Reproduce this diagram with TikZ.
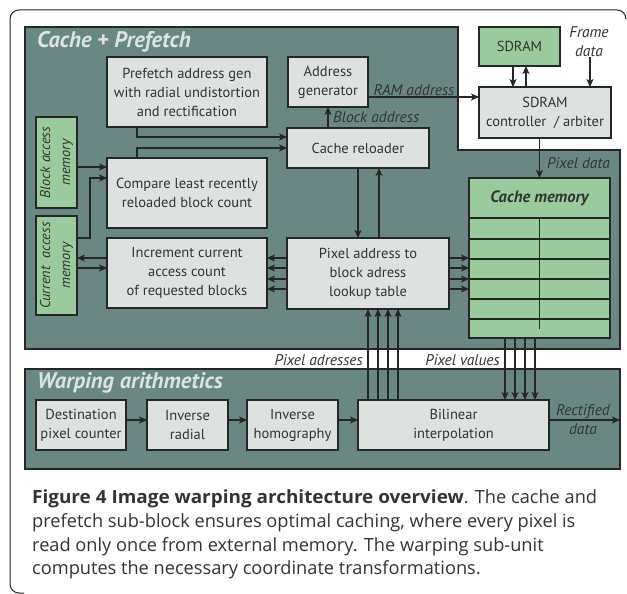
\documentclass[tikz,border=0pt]{standalone}
\usepackage{fontspec}
\setmainfont{Open Sans}
\newfontfamily\diag{PT Sans}
\usetikzlibrary{arrows.meta,calc}
\definecolor{panelc}{HTML}{6B8784}
\definecolor{boxc}{HTML}{DDE2E1}
\definecolor{memc}{HTML}{9ACB9E}
\definecolor{linec}{HTML}{262626}
\definecolor{titlec}{HTML}{DCE4E3}
\definecolor{txtc}{HTML}{333333}
\begin{document}
\begin{tikzpicture}[x=1pt,y=-1pt,
  box/.style={draw=linec, fill=boxc, line width=1.2pt, inner sep=0pt, outer sep=0pt, anchor=north west, align=center, text=txtc, font=\diag\fontsize{14.5}{19}\selectfont},
  mem/.style={box, fill=memc},
  arr/.style={draw=linec, line width=1.2pt, -{Stealth[length=8pt,width=7pt,inset=2pt]}},
  wire/.style={draw=linec, line width=1.2pt},
  lbl/.style={font=\diag\itshape\fontsize{15.5}{19}\selectfont, text=txtc, inner sep=0pt, align=center},
  memlbl/.style={font=\diag\itshape\fontsize{14.3}{20}\selectfont, text=txtc, inner sep=0pt, align=center, rotate=90},
  ptitle/.style={font=\diag\bfseries\itshape\fontsize{22.5}{24}\selectfont, text=titlec, inner sep=0pt, anchor=west},
  panel/.style={draw=linec, fill=panelc, line width=1.2pt},
  captext/.style={font=\fontsize{18.2}{24}\selectfont, text=txtc, inner sep=0pt, anchor=base west}]

\useasboundingbox[fill=white] (0,0) rectangle (627,594);

% outer frame
\draw[line width=1pt, draw=black!85, rounded corners=9pt] (626,18) -- (626,10) -- (10,10) -- (10,593) -- (24,593);

% panels
\path[panel] (25,27) -- (458,27) -- (458,150) -- (620,150) -- (620,349) -- (25,349) -- cycle;
\path[panel] (25,369) rectangle (620,469);
\node[ptitle] (t1) at (37,42) {Cache + Prefetch};
\node[ptitle] (t2) at (37,383) {Warping arithmetics};

% cache + prefetch blocks
\node[box, minimum width=160pt, minimum height=70pt] (pref) at (107,57) {Prefetch address gen\\with radial undistortion\\and rectification};
\node[box, minimum width=80pt, minimum height=50pt] (addr) at (288,57) {Address\\generator};
\node[box, minimum width=142pt, minimum height=40pt] (reload) at (287,128) {Cache reloader};
\node[mem, minimum width=41pt, minimum height=91pt] (bam) at (36,117) {};
\node[memlbl] (bamt) at (bam.center) {Block access\\memory};
\node[mem, minimum width=41pt, minimum height=99pt] (cam) at (36,216) {};
\node[memlbl] (camt) at (cam.center) {Current\ \ access\\memory};
\node[box, minimum width=160pt, minimum height=70pt] (comp) at (107,158) {Compare least recently\\reloaded block count};
\node[box, minimum width=160pt, minimum height=70pt] (incr) at (107,238) {Increment current\\access count\\of requested blocks};
\node[box, minimum width=162pt, minimum height=71pt] (lut) at (287,238) {Pixel address to\\block adress\\lookup table};
\node[mem, minimum width=141pt, minimum height=160pt] (cmem) at (469,178) {};
\node[font=\diag\bfseries\itshape\fontsize{16.5}{18}\selectfont, text=txtc, inner sep=0pt] (cmemt) at ($(cmem.north)+(0,20)$) {Cache memory};
\foreach \yy in {40,61,81,101,121,141} {
  \draw[wire] ($(cmem.north west)+(0,\yy)$) -- ($(cmem.north east)+(0,\yy)$);
}
\draw[wire] ($(cmem.north)+(0,40)$) -- ($(cmem.north)+(0,151)$);
\node[mem, minimum width=81pt, minimum height=39pt] (sdram) at (479,27) {SDRAM};
\node[box, minimum width=132pt, minimum height=51pt] (ctrl) at (479,87) {SDRAM\\controller~ / arbiter};

% warping blocks
\node[box, minimum width=90pt, minimum height=50pt] (dest) at (36,400) {Destination\\pixel counter};
\node[box, minimum width=81pt, minimum height=50pt] (irad) at (147,400) {Inverse\\radial};
\node[box, minimum width=91pt, minimum height=50pt] (ihom) at (247,400) {Inverse\\homography};
\node[box, minimum width=191pt, minimum height=50pt] (bil) at (358,400) {Bilinear\\interpolation};

% connectors
\draw[arr] ($(pref.south west)+(30,0)$) |- ($(reload.west)+(0,-11)$);
\draw[arr] ($(comp.north west)+(30,0)$) |- (reload.west);
\draw[arr] ($(bam.east)+(0,4.5)$) coordinate (a1) -- (a1 -| comp.west);
\draw[arr] ($(cam.east)+(0,-27.5)$) -- ++(13,0) |- ($(comp.west)+(0,-15)$);
\draw[arr] ($(incr.west)+(0,-15)$) coordinate (a2) -- (a2 -| cam.east);
\draw[arr] ($(cam.east)+(0,2.5)$) coordinate (a3) -- (a3 -| incr.west);
\foreach \dd in {-15.5,-5.5,5.5,15.5} {
  \draw[arr] ($(lut.west)+(0,\dd)$) coordinate (a4) -- (a4 -| incr.east);
  \draw[arr] ($(lut.east)+(0,\dd)$) coordinate (a5) -- (a5 -| cmem.west);
}
\draw[arr] (reload.south) -- (reload.south |- lut.north);
\coordinate (c1) at ($(reload.south)+(21,0)$);
\draw[arr] (c1 |- lut.north) -- (c1);
\draw[arr] (addr.south |- reload.north) -- (addr.south);
\draw[arr] ($(addr.east)+(0,15)$) coordinate (a6) -- (a6 -| ctrl.west);
\draw[arr] ($(sdram.south)+(-6.5,0)$) coordinate (a7) -- (a7 |- ctrl.north);
\coordinate (c2) at ($(sdram.south)+(6.5,0)$);
\draw[arr] (c2 |- ctrl.north) -- (c2);
\coordinate (fd) at (590,57);
\draw[arr] (fd) -- (fd |- ctrl.north);
\draw[arr] (ctrl.south -| cmem.north) -- (cmem.north);
\foreach \dd in {-85.5,-75.5,-65.5,-55.5} {
  \draw[arr] ($(bil.north)+(\dd,0)$) coordinate (a8) -- (a8 |- lut.south);
}
\foreach \dd in {-34.5,-24.5,-14.5,-4.5} {
  \draw[arr] ($(cmem.south)+(\dd,0)$) coordinate (a9) -- (a9 |- bil.north);
}
\draw[arr] ($(dest.east)+(0,-5)$) coordinate (b1) -- (b1 -| irad.west);
\draw[arr] ($(irad.east)+(0,-5)$) coordinate (b2) -- (b2 -| ihom.west);
\draw[arr] ($(ihom.east)+(0,-5)$) coordinate (b3) -- (b3 -| bil.west);
\coordinate (out) at (620,420);
\draw[arr] (b3 -| bil.east) -- (out);

% labels
\node[lbl] (l1) at (414,90) {RAM address};
\node[lbl, anchor=west] (l2) at (333,117) {Block address};
\node[lbl, anchor=west] (l3) at (547,163) {Pixel data};
\node[lbl] (l4) at (589,42) {Frame\\data};
\node[lbl, anchor=east] (l5) at (363,360) {Pixel adresses};
\node[lbl, anchor=east] (l6) at (500,360) {Pixel values};
\node[lbl] (l7) at (583,420) {Rectified\\data};

% caption
\node[captext] (cap1) at (32,503) {\scalebox{1.04}[1]{\textbf{Figure 4 Image warping architecture overview}}. The cache and};
\node[captext] (cap2) at (32,527) {prefetch sub-block ensures optimal caching, where every pixel is};
\node[captext] (cap3) at (32,551) {read only once from external memory. The warping sub-unit};
\node[captext] (cap4) at (32,574) {computes the necessary coordinate transformations.};
\end{tikzpicture}
\end{document}
